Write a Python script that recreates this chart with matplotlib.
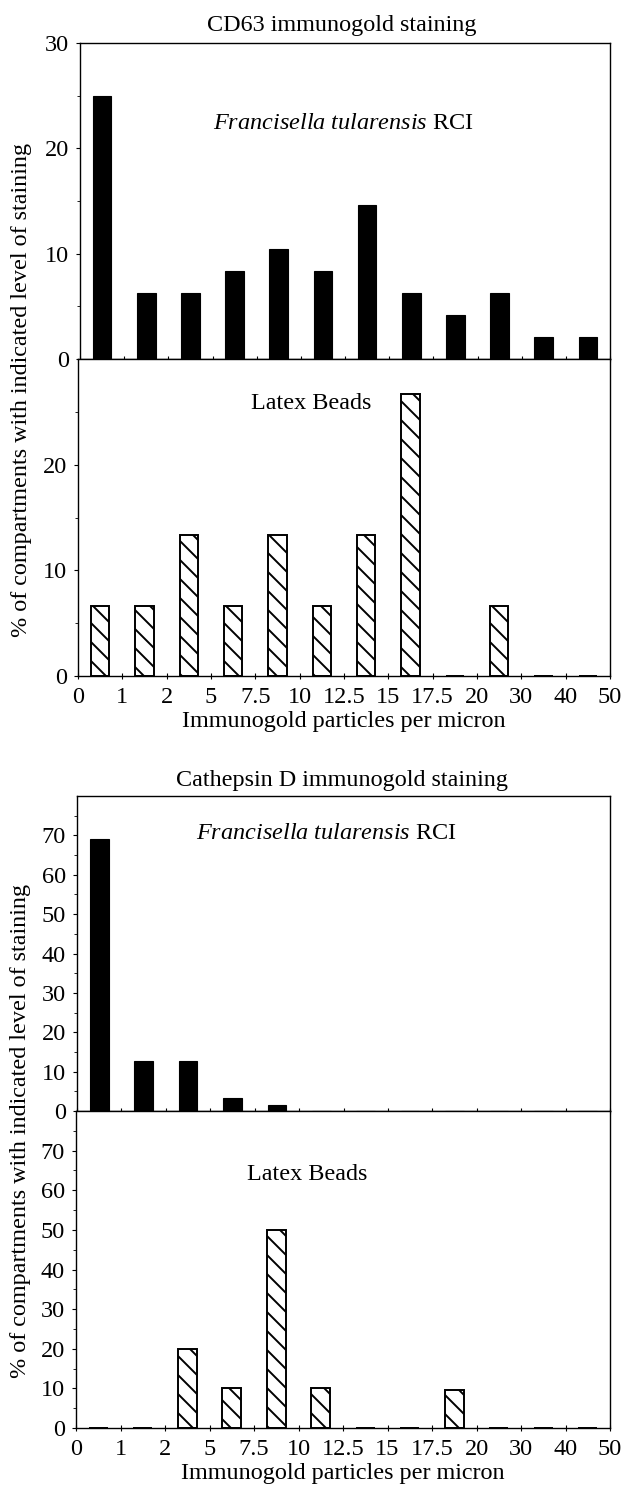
import matplotlib
matplotlib.use("Agg")
import matplotlib.pyplot as plt
import numpy as np

DPI = 114
S = 100.0 / DPI  # convert "100-dpi points" to real points

plt.rcParams['font.family'] = ['Liberation Serif', 'DejaVu Serif']
plt.rcParams['mathtext.fontset'] = 'custom'
plt.rcParams['mathtext.rm'] = 'Liberation Serif'
plt.rcParams['mathtext.it'] = 'Liberation Serif:italic'
plt.rcParams['hatch.linewidth'] = 1.4 * S

# ---- data ----
bin_edges = ["0", "1", "2", "5", "7.5", "10", "12.5", "15", "17.5", "20", "30", "40", "50"]
cd63_rci = [25.0, 6.25, 6.25, 8.33, 10.42, 8.33, 14.58, 6.25, 4.17, 6.25, 2.08, 2.08]
cd63_latex = [6.67, 6.67, 13.33, 6.67, 13.33, 6.67, 13.33, 26.67, 0, 6.67, 0, 0]
cathd_rci = [69.0, 12.6, 12.6, 3.4, 1.6, 0, 0, 0, 0, 0, 0, 0]
cathd_latex = [0, 0, 20, 10, 50, 10, 0, 0, 9.5, 0, 0, 0]

W, H = 621, 1488
fig = plt.figure(figsize=(W / DPI, H / DPI), dpi=DPI)


def fx(px):
    return px / W


def fy(py):
    return 1 - py / H


FS = 17.4 * S
FT = 17.5 * S
nb = len(cd63_rci)
xc = np.arange(nb) + 0.5
BW = 0.42


def make_axes(left, right, top, bottom):
    return fig.add_axes([fx(left), fy(bottom), fx(right) - fx(left), (bottom - top) / H])


def style(ax, ymax, yticks, show_x):
    ax.set_xlim(0, nb)
    ax.set_ylim(0, ymax)
    ax.set_yticks(yticks)
    ax.set_yticklabels([str(t) for t in yticks], fontsize=FT)
    ax.set_yticks(np.arange(5, ymax, 10), minor=True)
    ax.tick_params(axis='y', which='major', direction='out', length=3 * S, pad=5 * S, width=0.8 * S)
    ax.tick_params(axis='y', which='minor', direction='out', length=2 * S, width=0.6 * S)
    ax.set_xticks(np.arange(nb + 1))
    ax.tick_params(axis='x', direction='inout', length=5 * S, width=0.8 * S, pad=5.5 * S)
    if show_x:
        ax.set_xticklabels(bin_edges, fontsize=FT)
    else:
        ax.set_xticklabels([])
    for s in ax.spines.values():
        s.set_linewidth(1.0 * S)


def solid(ax, vals):
    ax.bar(xc, vals, width=BW, color='black', edgecolor='black', linewidth=0.8 * S)


def hatched(ax, vals):
    ax.bar(xc, vals, width=BW, color='white', edgecolor='black', linewidth=1.4 * S, hatch='\\\\')


label = r"$\mathit{Francisella\ tularensis}$ RCI"
ylab = "% of compartments with indicated level of staining"

# ---- CD63 panel ----
a1 = make_axes(80, 610, 43, 359)
solid(a1, cd63_rci)
style(a1, 30, [0, 10, 20, 30], False)
a1.text(5.97, 22.4, label, fontsize=17.5 * S, ha='center', va='center')

a2 = make_axes(78, 610, 359, 676)
hatched(a2, cd63_latex)
style(a2, 30, [0, 10, 20], True)
a2.text(5.27, 25.8, "Latex Beads", fontsize=FS, ha='center', va='center')
a2.set_xlabel("Immunogold particles per micron", fontsize=FS, labelpad=2 * S)

fig.text(fx(342), fy(31), "CD63 immunogold staining", fontsize=FS, ha='center', va='baseline')
fig.text(fx(22), fy(390), ylab, fontsize=FS, rotation=90, ha='center', va='center')

# ---- Cathepsin D panel ----
b1 = make_axes(77, 610, 796, 1111)
solid(b1, cathd_rci)
style(b1, 80, [0, 10, 20, 30, 40, 50, 60, 70], False)
b1.text(5.62, 70.5, label, fontsize=17.5 * S, ha='center', va='center')

b2 = make_axes(76, 610, 1111, 1428)
hatched(b2, cathd_latex)
style(b2, 80, [0, 10, 20, 30, 40, 50, 60, 70], True)
b2.text(5.2, 64, "Latex Beads", fontsize=FS, ha='center', va='center')
b2.set_xlabel("Immunogold particles per micron", fontsize=FS, labelpad=2 * S)

fig.text(fx(342), fy(786), "Cathepsin D immunogold staining", fontsize=FS, ha='center', va='baseline')
fig.text(fx(21), fy(1131), ylab, fontsize=FS, rotation=90, ha='center', va='center')

fig.savefig("out.png", dpi=DPI)
